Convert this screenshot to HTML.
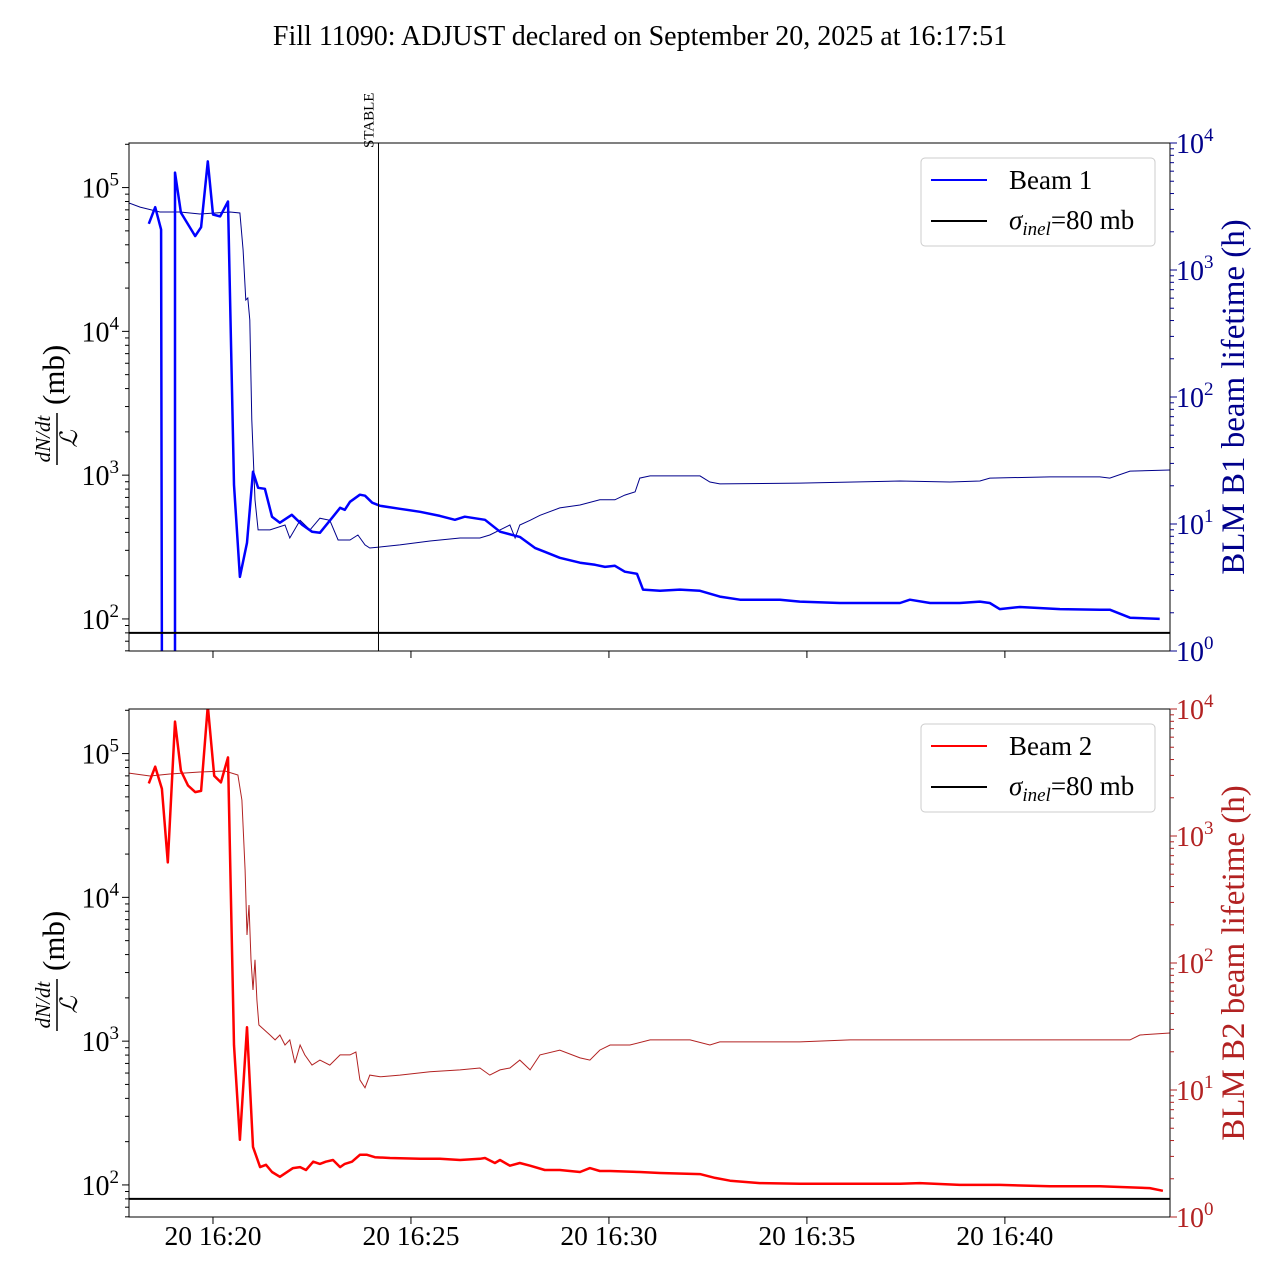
<!DOCTYPE html>
<html><head><meta charset="utf-8"><style>
body{margin:0;background:#fff;}
svg{display:block;font-family:"Liberation Serif",serif;}
</style></head><body>
<svg id="chart" width="1280" height="1280" viewBox="0 0 1280 1280" xmlns="http://www.w3.org/2000/svg">
<text x="640" y="45" font-size="28" text-anchor="middle">Fill 11090: ADJUST declared on September 20, 2025 at 16:17:51</text>
</svg>
<script>
// time in minutes after 16:00
const xTickValues=[20,25,30,35,40];
const xTickLabels=["20 16:20","20 16:25","20 16:30","20 16:35","20 16:40"];
const stableTime=24.18;
const sigmaInel=80;
const b1Time=[18.38,18.54,18.69,18.71,19.04,19.04,19.19,19.55,19.70,19.87,20.00,20.18,20.38,20.53,20.68,20.86,21.01,21.14,21.31,21.49,21.69,21.99,22.25,22.50,22.70,23.03,23.21,23.33,23.46,23.71,23.84,24.02,24.22,24.72,25.23,25.73,26.11,26.36,26.87,27.25,27.75,28.13,28.38,28.76,29.27,29.65,29.90,30.15,30.40,30.71,30.86,31.29,31.79,32.30,32.80,33.31,34.32,34.82,35.83,36.84,37.35,37.60,38.11,38.86,39.37,39.62,39.87,40.38,41.39,42.40,42.65,43.16,43.91];
const b1Rate=[5.6e4,7.3e4,5.1e4,50,50,1.27e5,6.7e4,4.6e4,5.3e4,1.52e5,6.5e4,6.3e4,8.0e4,857,196,339,1057,817,804,514,467,530,452,404,397,514,593,574,653,731,719,643,612,583,556,521,489,514,489,404,372,312,293,266,246,238,230,234,213,206,160,157,160,157,143,136,136,132,129,129,129,136,129,129,132,129,117,121,117,116,116,102,100];
const b1LifeTime=[17.88,18.16,18.66,19.17,19.67,20.05,20.43,20.68,20.76,20.83,20.88,20.93,20.98,21.06,21.14,21.44,21.82,21.94,22.20,22.45,22.70,22.95,23.16,23.46,23.66,23.84,23.96,24.22,24.72,25.48,26.24,26.74,26.99,27.25,27.50,27.63,27.75,28.01,28.26,28.76,29.27,29.77,30.15,30.40,30.66,30.78,31.04,32.30,32.55,32.80,34.82,37.35,38.61,39.37,39.62,41.14,42.40,42.65,43.16,44.17];
const b1Life=[3370,3130,2860,2860,2760,2810,2860,2810,1437,580,602,404,65.9,15.5,8.98,8.98,9.82,7.76,10.7,8.98,11.1,10.7,7.48,7.48,8.19,6.84,6.47,6.59,6.84,7.35,7.76,7.76,8.19,8.98,9.82,7.76,9.82,10.7,11.7,13.4,14.1,15.5,15.5,16.9,17.9,23.0,23.9,23.9,21.4,20.7,21.0,21.8,21.4,21.8,23.0,23.5,23.5,23.0,26.1,26.6];
const b2Time=[18.38,18.54,18.71,18.86,19.04,19.19,19.37,19.55,19.70,19.87,20.03,20.20,20.38,20.53,20.68,20.86,21.01,21.19,21.34,21.49,21.69,22.02,22.20,22.35,22.53,22.70,22.85,23.03,23.21,23.33,23.51,23.71,23.89,24.09,24.47,25.23,25.73,26.24,26.74,26.87,27.12,27.25,27.50,27.75,28.01,28.38,28.76,29.27,29.52,29.77,30.03,30.78,31.29,32.30,32.68,33.06,33.81,34.82,36.09,37.35,37.85,38.86,39.87,41.14,42.40,43.66,43.99];
const b2Rate=[6.2e4,8.1e4,5.7e4,1.75e4,1.67e5,7.6e4,6.0e4,5.4e4,5.5e4,2.15e5,7.0e4,6.3e4,9.4e4,938,206,1250,184,133,138,123,114,131,133,127,145,140,145,149,133,140,145,162,162,156,154,152,152,149,152,154,142,149,136,142,136,127,127,123,131,125,125,123,121,119,112,107,103,102,102,102,103,100,100,98,98,95,91];
const b2LifeTime=[17.88,18.41,18.91,19.67,20.30,20.63,20.73,20.81,20.86,20.91,20.96,21.01,21.06,21.11,21.16,21.44,21.57,21.69,21.82,21.94,22.07,22.20,22.32,22.50,22.70,22.95,23.21,23.46,23.61,23.71,23.84,23.96,24.22,24.72,25.48,26.24,26.74,26.99,27.25,27.50,27.75,28.01,28.26,28.76,29.27,29.52,29.77,30.03,30.53,31.04,32.05,32.55,32.80,34.82,36.09,37.35,38.61,39.87,41.14,42.40,43.16,43.41,44.17];
const b2Life=[3130,2970,3080,3190,3250,3020,1920,539,166,286,106,61.3,106,51.1,32.5,27.1,24.8,27.1,22.6,24.8,16.3,22.6,18.9,15.7,17.2,15.7,18.9,18.9,19.9,12.0,10.4,13.1,12.7,13.1,13.9,14.4,14.9,13.1,14.4,14.9,17.2,14.4,18.9,20.6,17.9,17.2,20.6,22.6,22.6,24.8,24.8,22.6,23.9,23.9,24.8,24.8,24.8,24.8,24.8,24.8,24.8,27.1,28.1];

const NS="http://www.w3.org/2000/svg";
const svg=document.getElementById('chart');
function mk(tag,attrs,parent){const e=document.createElementNS(NS,tag);for(const k in attrs)e.setAttribute(k,attrs[k]);(parent||svg).appendChild(e);return e;}
const X0=129,X1=1170,T0=17.879,T1=44.17;
const xs=t=>X0+(t-T0)/(T1-T0)*(X1-X0);
const LMIN=1.777,LMAX=5.31;

function panel(top,opts){
  const bot=top+508;
  const yl=v=>bot-(Math.log10(v)-LMIN)/(LMAX-LMIN)*508;
  const yr=v=>bot-Math.log10(v)/4*508;
  const g=mk('g',{});
  
  
  const cid='clip'+top;
  const cp=mk('clipPath',{id:cid},g);mk('rect',{x:X0,y:top,width:X1-X0,height:508},cp);
  const pg=mk('g',{'clip-path':'url(#'+cid+')'},g);
  const path=(ts,vs,f)=>ts.map((t,i)=>(i?'L':'M')+xs(t).toFixed(1)+','+f(vs[i]).toFixed(1)).join('');
  const life=mk('path',{d:path(opts.lifeT,opts.life,yr),fill:'none',stroke:opts.lifeColor,'stroke-width':1},pg);
  
  
  const rate=mk('path',{d:path(opts.rateT,opts.rate,yl),fill:'none',stroke:opts.color,'stroke-width':2.5,'stroke-linejoin':'round'},pg);
  
  
  const sl=mk('line',{x1:X0,x2:X1,y1:yl(sigmaInel),y2:yl(sigmaInel),stroke:'#000','stroke-width':2},pg);
  
  
  if(opts.stable){
    const sx=xs(stableTime);
    const l=mk('line',{x1:sx,x2:sx,y1:top,y2:bot,stroke:'#000','stroke-width':1},g);
    
    
    const tx=mk('text',{x:0,y:0,'font-size':15,transform:`translate(${sx-5},${top+5}) rotate(-90)`},g);
    tx.textContent='STABLE';
    
    
  }
  const fr=mk('rect',{x:X0,y:top,width:X1-X0,height:508,fill:'none',stroke:'#000','stroke-width':1},g);
  
  
  for(let d=1;d<=5;d++){for(let m=1;m<10;m++){const v=m*Math.pow(10,d);const y=yl(v);if(y<top-0.5||y>bot+0.5)continue;
    mk('line',{x1:X0,x2:X0-(m==1?7:4),y1:y,y2:y,stroke:'#000','stroke-width':1},g);
    if(m==1&&d>=2){const t=mk('text',{x:X0-10,y:y+10,'font-size':28,'text-anchor':'end'},g);t.innerHTML='10<tspan dy="-12" font-size="19">'+d+'</tspan>';
      }}}
  for(let d=0;d<=4;d++){for(let m=1;m<10;m++){const v=m*Math.pow(10,d);if(v>1e4)continue;const y=yr(v);
    mk('line',{x1:X1,x2:X1+(m==1?7:4),y1:y,y2:y,stroke:opts.axisColor,'stroke-width':1},g);
    if(m==1){const t=mk('text',{x:X1+6,y:y+10,'font-size':28,fill:opts.axisColor},g);t.innerHTML='10<tspan dy="-12" font-size="19">'+d+'</tspan>';
      }}}
  xTickValues.forEach((tv,i)=>{const x=xs(tv);mk('line',{x1:x,x2:x,y1:bot,y2:bot+7,stroke:'#000'},g);
    if(opts.xlabels){const t=mk('text',{x:x,y:bot+28,'font-size':27.5,'text-anchor':'middle'},g);t.textContent=xTickLabels[i];
      }});
  const cy=top+254;
  const ll=mk('g',{transform:`translate(58,${cy}) rotate(-90)`},g);
  
  const n=mk('text',{x:-42,y:-8,'font-size':21,'font-style':'italic','text-anchor':'middle'},ll);n.textContent='dN/dt';
  mk('line',{x1:-68,x2:-16,y1:-1,y2:-1,stroke:'#000','stroke-width':1.5},ll);
  const dd=mk('text',{x:-42,y:19,'font-size':24,'font-style':'italic','text-anchor':'middle'},ll);dd.textContent='ℒ';
  const mb=mk('text',{x:-8,y:6,'font-size':31},ll);mb.textContent='(mb)';
  const rt=mk('text',{x:0,y:0,'font-size':33,fill:opts.axisColor,'text-anchor':'middle',transform:`translate(1244,${top+254}) rotate(-90)`},g);
  rt.textContent=opts.rightTitle;
  
  const lg=mk('g',{},g);
  
  mk('rect',{x:921,y:top+15,width:234,height:88,rx:4,fill:'#fff',stroke:'#ccc','stroke-width':1},lg);
  mk('line',{x1:931,x2:987,y1:top+37,y2:top+37,stroke:opts.color,'stroke-width':2},lg);
  const t1=mk('text',{x:1009,y:top+46,'font-size':27},lg);t1.textContent=opts.label;
  mk('line',{x1:931,x2:987,y1:top+78,y2:top+78,stroke:'#000','stroke-width':2},lg);
  const t2=mk('text',{x:1009,y:top+86,'font-size':27},lg);
  t2.innerHTML='<tspan font-style="italic">σ</tspan><tspan font-style="italic" font-size="19" dy="6">inel</tspan><tspan dy="-6">=80 mb</tspan>';
}
panel(143,{name:'beam1-panel',key:'beam1',color:'#0000ff',lifeColor:'#00008b',axisColor:'#00008b',rateT:b1Time,rate:b1Rate,lifeT:b1LifeTime,life:b1Life,stable:true,xlabels:false,rightTitle:'BLM B1 beam lifetime (h)',label:'Beam 1'});
panel(709,{name:'beam2-panel',key:'beam2',color:'#ff0000',lifeColor:'#b22222',axisColor:'#b22222',rateT:b2Time,rate:b2Rate,lifeT:b2LifeTime,life:b2Life,stable:false,xlabels:true,rightTitle:'BLM B2 beam lifetime (h)',label:'Beam 2'});
</script>
</body></html>
